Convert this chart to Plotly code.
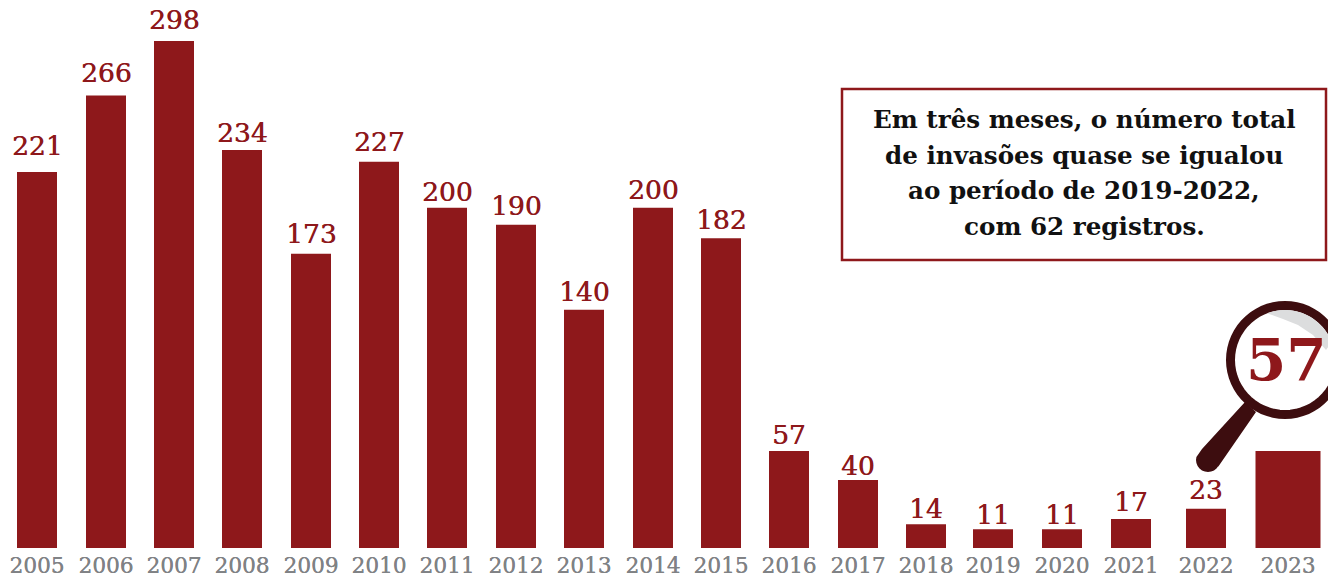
import math
import plotly.graph_objects as go

# Invasion records per year
years = ["2005", "2006", "2007", "2008", "2009", "2010", "2011", "2012", "2013", "2014",
         "2015", "2016", "2017", "2018", "2019", "2020", "2021", "2022", "2023"]
invasions = [221, 266, 298, 234, 173, 227, 200, 190, 140, 200,
             182, 57, 40, 14, 11, 11, 17, 23, 57]
callout_lines = ["Em três meses, o número total",
                 "de invasões quase se igualou",
                 "ao período de 2019-2022,",
                 "com 62 registros."]

# Layout: horizontal slots on a pixel-wide axis, the final year is set apart and wider
slot_centers = [37, 106, 174, 242, 311, 379, 447, 516, 584, 653,
                721, 789, 858, 926, 993, 1062, 1131, 1206, 1288]
slot_widths = [40] * 18 + [65]
# Space in pixels between each bar top and the digits of its value label
label_gaps = [17, 13, 12, 7, 10, 10, 6, 9, 8, 8, 9, 7, 4, 6, 5, 5, 8, 9]

WIDTH, HEIGHT = 1328, 578
BASELINE = 548
PX_PER_UNIT = 507 / 298
RED = "#8e181b"
DARK = "#3d0d0f"
GREY = "#808285"
SERIF = "DejaVu Serif"


def vy(py):
    """Convert a distance from the top of the page to a value-axis position."""
    return (BASELINE - py) / PX_PER_UNIT


def circle_path(cx, cy, r):
    pts = [(cx + r * math.cos(a * math.pi / 30), vy(cy + r * math.sin(a * math.pi / 30)))
           for a in range(60)]
    return "M" + " L".join(f"{x:.2f},{y:.2f}" for x, y in pts) + " Z"


def polygon_path(points):
    return "M" + " L".join(f"{x:.2f},{vy(y):.2f}" for x, y in points) + " Z"


LENS_X, LENS_Y = 1285, 360

# Magnifier handle: tapered bar ending in a rounded grip
handle = [(1245, 402), (1256, 412), (1218, 467)]
handle += [(1208 + 12 * math.cos(a * math.pi / 12), 460 + 12 * math.sin(a * math.pi / 12))
           for a in range(1, 14)]
handle += [(1202, 449)]

# Highlight crescent along the upper right of the glass
glare = [(LENS_X + 50 * math.cos(math.radians(a)), LENS_Y + 50 * math.sin(math.radians(a)))
         for a in range(-111, -15, 6)]
glare += [(1326, 350), (1313, 335), (1298, 325), (1283, 319)]

shapes = [
    dict(type="path", path=polygon_path(handle), fillcolor=DARK, line_width=0, layer="above"),
    dict(type="path", path=circle_path(LENS_X, LENS_Y, 54.5), fillcolor="white",
         line=dict(color=DARK, width=9), layer="above"),
    dict(type="path", path=polygon_path(glare), fillcolor="#dcddde", line_width=0, layer="above"),
    dict(type="rect", x0=842, x1=1326, y0=vy(89), y1=vy(260), fillcolor="white",
         line=dict(color=RED, width=2.5), layer="below"),
]

annotations = [
    dict(x=1084, y=vy(py), text=line, showarrow=False, xanchor="center", yanchor="middle",
         font=dict(family=SERIF, size=24.6, color="#111111", weight="bold"))
    for line, py in zip(callout_lines, [119, 155, 190, 226])
]
# Value labels above the bars
annotations += [
    dict(x=x, y=v, text=str(v), showarrow=False, xanchor="center", yanchor="middle",
         yshift=gap + 10,
         font=dict(family=SERIF, size=26.5, color=RED, shadow=f"0.5px 0 0 {RED}"))
    for x, v, gap in zip(slot_centers, invasions, label_gaps)
]
annotations.append(
    dict(x=1286, y=vy(360), text=str(invasions[-1]), showarrow=False, xanchor="center",
         yanchor="middle", font=dict(family=SERIF, size=58, color=RED, weight="bold"))
)

fig = go.Figure(
    go.Bar(
        x=slot_centers,
        y=invasions,
        width=slot_widths,
        marker=dict(color=RED, line_width=0),
        cliponaxis=False,
        hoverinfo="skip",
    )
)

fig.update_layout(
    width=WIDTH,
    height=HEIGHT,
    margin=dict(l=0, r=0, t=0, b=HEIGHT - BASELINE),
    paper_bgcolor="white",
    plot_bgcolor="white",
    showlegend=False,
    shapes=shapes,
    annotations=annotations,
    xaxis=dict(
        range=[0, WIDTH],
        tickmode="array",
        tickvals=slot_centers,
        ticktext=years,
        showgrid=False,
        zeroline=False,
        showline=False,
        ticks="",
        tickangle=0,
        ticklabelstandoff=2,
        tickfont=dict(family=SERIF, size=21.6, color=GREY, shadow=f"0.3px 0 0 {GREY}"),
    ),
    yaxis=dict(range=[0, BASELINE / PX_PER_UNIT], visible=False),
)

fig.write_html("out.html", config=dict(displayModeBar=False))
